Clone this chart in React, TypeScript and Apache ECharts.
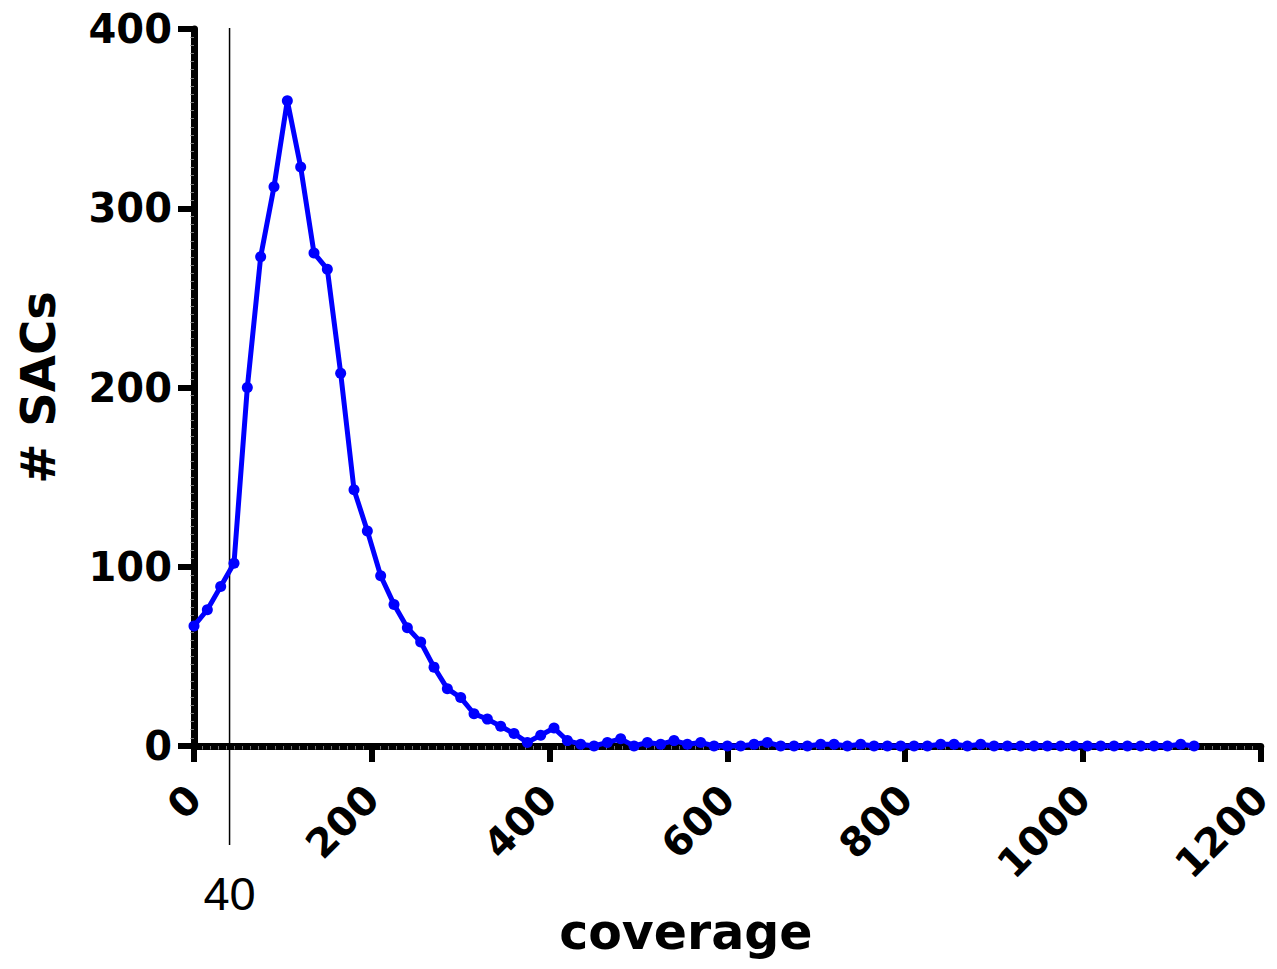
import React, { useEffect, useRef } from "react";
import * as echarts from "echarts";

const coverage = [
  0, 15, 30, 45, 60, 75, 90, 105, 120, 135, 150, 165, 180, 195, 210, 225, 240, 255, 270, 285,
  300, 315, 330, 345, 360, 375, 390, 405, 420, 435, 450, 465, 480, 495, 510, 525, 540, 555, 570, 585,
  600, 615, 630, 645, 660, 675, 690, 705, 720, 735, 750, 765, 780, 795, 810, 825, 840, 855, 870, 885,
  900, 915, 930, 945, 960, 975, 990, 1005, 1020, 1035, 1050, 1065, 1080, 1095, 1110, 1125,
];
const sacs = [
  67, 76, 89, 102, 200, 273, 312, 360, 323, 275, 266, 208, 143, 120, 95, 79, 66, 58, 44, 32,
  27, 18, 15, 11, 7, 2, 6, 10, 3, 1, 0, 2, 4, 0, 2, 1, 3, 1, 2, 0,
  0, 0, 1, 2, 0, 0, 0, 1, 1, 0, 1, 0, 0, 0, 0, 0, 1, 1, 0, 1,
  0, 0, 0, 0, 0, 0, 0, 0, 0, 0, 0, 0, 0, 0, 1, 0,
];
const xTicks = { min: 0, max: 1200, interval: 200 };
const yTicks = { min: 0, max: 400, interval: 100 };
const cutoff = 40;
const xName = "coverage";
const yName = "# SACs";

export default function App() {
  const ref = useRef<HTMLDivElement>(null);
  useEffect(() => {
    if (!ref.current) return;
    const chart = echarts.init(ref.current, null, { renderer: "svg" });
    const bold = { fontFamily: "DejaVu Sans", fontWeight: "bold" as const, color: "#000" };
    const axisCommon = {
      axisLine: { show: true, lineStyle: { color: "#000", width: 7 } },
      axisTick: { show: true, length: 16, lineStyle: { color: "#000", width: 6 } },
      minorTick: { show: true, splitNumber: 22, length: 3.5, lineStyle: { color: "#777", width: 1 } },
      splitLine: { show: false },
      minorSplitLine: { show: false },
    };
    chart.setOption({
      animation: false,
      backgroundColor: "#fff",
      grid: { left: 194, right: 11, top: 29, bottom: 223, containLabel: false },
      xAxis: {
        type: "value",
        ...xTicks,
        ...axisCommon,
        axisLabel: { ...bold, fontSize: 40, rotate: 45, margin: 46, formatter: (v: number) => String(v) },
        name: xName,
        nameLocation: "middle",
        nameGap: 162,
        nameTextStyle: { ...bold, fontSize: 49, padding: [0, 83, 0, 0] },
      },
      yAxis: {
        type: "value",
        ...yTicks,
        ...axisCommon,
        axisLabel: { ...bold, fontSize: 40, margin: 22, formatter: (v: number) => String(v) },
        name: yName,
        nameLocation: "middle",
        nameGap: 132,
        nameTextStyle: { ...bold, fontSize: 48 },
      },
      series: [
        {
          type: "line",
          data: coverage.map((c, i) => [c, sacs[i]]),
          color: "#0000ff",
          lineStyle: { color: "#0000ff", width: 5 },
          itemStyle: { color: "#0000ff" },
          symbol: "circle",
          symbolSize: 11,
          showAllSymbol: true,
          clip: false,
          z: 5,
        },
      ],
    });
    const px = chart.convertToPixel({ xAxisIndex: 0 }, cutoff) as number;
    chart.setOption({
      graphic: [
        {
          type: "line",
          shape: { x1: px, y1: 28, x2: px, y2: 845 },
          style: { stroke: "#000", lineWidth: 1.5 },
          z: 1,
        },
        {
          type: "text",
          x: px,
          y: 893,
          style: {
            text: String(cutoff),
            fontFamily: "Liberation Sans",
            fontSize: 47,
            fill: "#000",
            align: "center",
            verticalAlign: "middle",
          },
        },
      ],
    });
    return () => chart.dispose();
  }, []);
  return (
    <div
      ref={ref}
      style={{ position: "absolute", left: 0, top: 0, width: 1277, height: 969 }}
    />
  );
}
